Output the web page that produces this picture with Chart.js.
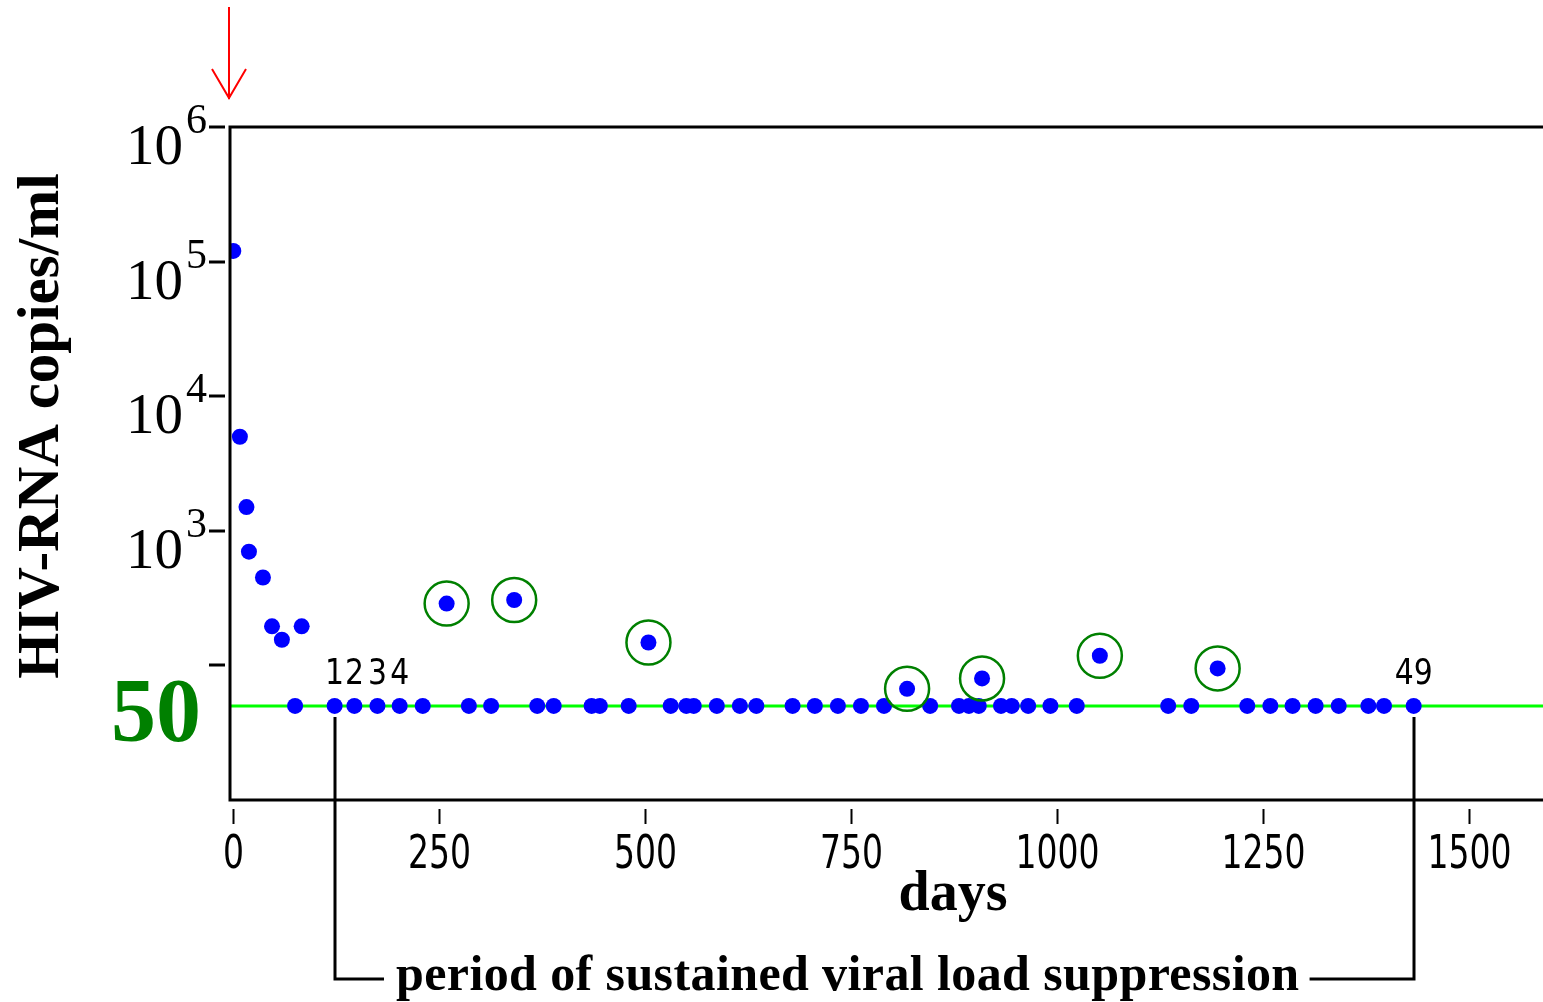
<!DOCTYPE html>
<html>
<head>
<meta charset="utf-8">
<title>HIV-RNA</title>
<script src="https://cdn.jsdelivr.net/npm/chart.js@4.4.1/dist/chart.umd.min.js"></script>
<style>
  html, body { margin: 0; padding: 0; background: #ffffff; overflow: hidden; }
  canvas { display: block; }
</style>
</head>
<body>
<canvas id="grafica" width="1543" height="1002"></canvas>
<script>
/* ===== DATOS ===== */

// dias desde el inicio del tratamiento
const DAYS = [
  0, 8, 16, 19, 36, 47, 59, 75, 83,
  123, 147, 175, 202, 230, 259, 286, 313, 341, 369, 389, 435, 445, 480, 504,
  531, 550, 559, 587, 615, 635, 679, 706, 734, 762, 790, 818, 846, 881, 893,
  905, 909, 932, 945, 965, 992, 1024, 1052, 1135, 1163, 1195, 1231, 1259, 1286,
  1314, 1342, 1378, 1397, 1433
];

// copias de HIV-RNA por ml (50 = limite de deteccion)
const LOADS = [
  120000, 5000, 1500, 700, 450, 195, 155, 50, 195,
  50, 50, 50, 50, 50, 288, 50, 50, 306, 50, 50, 50, 50, 50, 148,
  50, 50, 50, 50, 50, 50, 50, 50, 50, 50, 50, 67, 50, 50, 50,
  50, 80, 50, 50, 50, 50, 50, 118, 50, 50, 95, 50, 50, 50,
  50, 50, 50, 50, 50
];

// "blips" marcados con circulo verde
const BLIP_DAYS = [259, 341, 504, 818, 909, 1052, 1195];

const DETECTION_LIMIT = 50;
const SUPPRESSION_START = 123;
const SUPPRESSION_END = 1433;
const NUMBERED = [1, 2, 3, 4, 49];

const X_TICKS = [0, 250, 500, 750, 1000, 1250, 1500];
const Y_TICKS = [1e6, 1e5, 1e4, 1e3, 1e2];
const Y_EXPONENTS = ["6", "5", "4", "3", ""];

const X_TITLE = "days";
const Y_TITLE = "HIV-RNA copies/ml";
const PERIOD_TEXT = "period of sustained viral load suppression";

/* ===== FUENTES ===== */

const SERIF = "'Liberation Serif', 'Times New Roman', serif";
const NARROW = "'Liberation Sans Narrow', 'DejaVu Sans Condensed', 'Liberation Sans', sans-serif";

/* ===== PUNTOS ===== */

const puntos = DAYS.map(function(d, i) { return { x: d, y: LOADS[i] }; });
const blips = puntos.filter(function(p) { return BLIP_DAYS.indexOf(p.x) >= 0; });
const limite = [{ x: -4, y: DETECTION_LIMIT }, { x: 1590, y: DETECTION_LIMIT }];

/**
 * Escribe un texto estrecho: lo comprime en horizontal
 * hasta el ancho por caracter pedido.
 */
function textoEstrecho(ctx, texto, x, y, anchoCaracter) {
  const ancho = ctx.measureText(texto).width;
  const escala = Math.min(1, (anchoCaracter * texto.length) / ancho);
  ctx.save();
  ctx.translate(x, y);
  ctx.scale(escala, 1);
  ctx.textAlign = "center";
  ctx.fillText(texto, 0, 0);
  ctx.restore();
}

/* ===== DECORACION (ejes, etiquetas, anotaciones) ===== */

const decoracion = {
  id: "decoracion",
  afterDatasetsDraw(chart) {
    const ctx = chart.ctx;
    const area = chart.chartArea;
    const xs = chart.scales.x;
    const ys = chart.scales.y;

    ctx.save();

    // ejes: borde superior, izquierdo e inferior
    ctx.strokeStyle = "#000000";
    ctx.lineWidth = 3;
    ctx.beginPath();
    ctx.moveTo(area.right, area.top);
    ctx.lineTo(area.left, area.top);
    ctx.lineTo(area.left, area.bottom);
    ctx.lineTo(area.right, area.bottom);
    ctx.stroke();

    // marcas y etiquetas del eje y (10^n)
    Y_TICKS.forEach(function(v, i) {
      const py = Math.round(ys.getPixelForValue(v));
      ctx.strokeStyle = "#000000";
      ctx.lineWidth = 3;
      ctx.beginPath();
      ctx.moveTo(area.left - 21, py);
      ctx.lineTo(area.left - 5, py);
      ctx.stroke();
      if (!Y_EXPONENTS[i]) return;
      ctx.fillStyle = "#000000";
      ctx.font = "57px " + SERIF;
      ctx.textAlign = "right";
      ctx.textBaseline = "alphabetic";
      ctx.fillText("10", area.left - 47, py + 37);
      ctx.font = "42px " + SERIF;
      ctx.textAlign = "left";
      ctx.fillText(Y_EXPONENTS[i], area.left - 44, py + 6);
    });

    // marcas y etiquetas del eje x
    ctx.font = "46px " + NARROW;
    ctx.textBaseline = "alphabetic";
    X_TICKS.forEach(function(t) {
      const px = Math.round(xs.getPixelForValue(t)) + 0.5;
      ctx.strokeStyle = "#000000";
      ctx.lineWidth = 2;
      ctx.beginPath();
      ctx.moveTo(px, area.bottom + 9);
      ctx.lineTo(px, area.bottom + 24);
      ctx.stroke();
      ctx.fillStyle = "#000000";
      textoEstrecho(ctx, String(t), px, area.bottom + 68, 21);
    });

    // limite de deteccion "50"
    const yLim = ys.getPixelForValue(DETECTION_LIMIT);
    ctx.fillStyle = "#008000";
    ctx.font = "bold 90px " + SERIF;
    ctx.textAlign = "right";
    ctx.fillText(String(DETECTION_LIMIT), 201, yLim + 35);

    // titulo del eje x
    ctx.fillStyle = "#000000";
    ctx.font = "bold 56px " + SERIF;
    ctx.textAlign = "center";
    ctx.fillText(X_TITLE, 953, area.bottom + 110);

    // titulo del eje y (rotado)
    ctx.save();
    ctx.translate(58, 426);
    ctx.rotate(-Math.PI / 2);
    ctx.font = "bold 59px " + SERIF;
    ctx.textAlign = "center";
    ctx.fillText(Y_TITLE, 0, 0);
    ctx.restore();

    // numeracion de los puntos del periodo suprimido
    const periodo = puntos.filter(function(p) {
      return p.x >= SUPPRESSION_START && p.x <= SUPPRESSION_END;
    });
    ctx.font = "35px " + NARROW;
    NUMBERED.forEach(function(n) {
      const p = periodo[n - 1];
      if (!p) return;
      textoEstrecho(ctx, String(n), xs.getPixelForValue(p.x), yLim - 22, 19);
    });

    // corchete del periodo de supresion
    const xa = Math.round(xs.getPixelForValue(SUPPRESSION_START));
    const xb = Math.round(xs.getPixelForValue(SUPPRESSION_END));
    const yCorchete = 979;
    ctx.font = "bold 50px " + SERIF;
    ctx.textAlign = "left";
    ctx.letterSpacing = "0.4px";
    const xTexto = xa + 61;
    const ancho = ctx.measureText(PERIOD_TEXT).width;
    ctx.fillText(PERIOD_TEXT, xTexto, 990);
    ctx.letterSpacing = "0px";

    ctx.strokeStyle = "#000000";
    ctx.lineWidth = 3;
    ctx.beginPath();
    ctx.moveTo(xa, yLim + 11);
    ctx.lineTo(xa, yCorchete);
    ctx.lineTo(xTexto - 12, yCorchete);
    ctx.moveTo(xb, yLim + 11);
    ctx.lineTo(xb, yCorchete);
    ctx.lineTo(xTexto + ancho + 10, yCorchete);
    ctx.stroke();

    // flecha roja: inicio del tratamiento
    const xf = area.left - 1;
    ctx.strokeStyle = "#ff0000";
    ctx.lineWidth = 2;
    ctx.beginPath();
    ctx.moveTo(xf, 7);
    ctx.lineTo(xf, 99);
    ctx.moveTo(xf - 17, 69);
    ctx.lineTo(xf, 98);
    ctx.lineTo(xf + 17, 69);
    ctx.stroke();

    ctx.restore();
  }
};

/* ===== GRAFICA ===== */

new Chart(document.getElementById("grafica"), {
  type: "scatter",
  data: {
    datasets: [
      {
        label: "blips",
        data: blips,
        pointRadius: 22,
        pointBackgroundColor: "rgba(0, 0, 0, 0)",
        pointBorderColor: "#008000",
        pointBorderWidth: 2.5,
        clip: 0,
      },
      {
        label: "HIV-RNA",
        data: puntos,
        pointRadius: 8,
        pointBackgroundColor: "#0000ff",
        pointBorderWidth: 0,
        clip: 0,
      },
      {
        type: "line",
        label: "limite",
        data: limite,
        borderColor: "#00ff00",
        borderWidth: 3,
        pointRadius: 0,
        clip: 0,
      },
    ],
  },
  options: {
    responsive: false,
    animation: false,
    events: [],
    layout: {
      autoPadding: false,
      padding: { left: 230, top: 127, right: 0, bottom: 202 },
    },
    plugins: {
      legend: { display: false },
      tooltip: { enabled: false },
    },
    scales: {
      x: { type: "linear", min: -4, max: 1590, display: false },
      y: { type: "logarithmic", min: 10, max: 1e6, display: false },
    },
  },
  plugins: [decoracion],
});
</script>
</body>
</html>
